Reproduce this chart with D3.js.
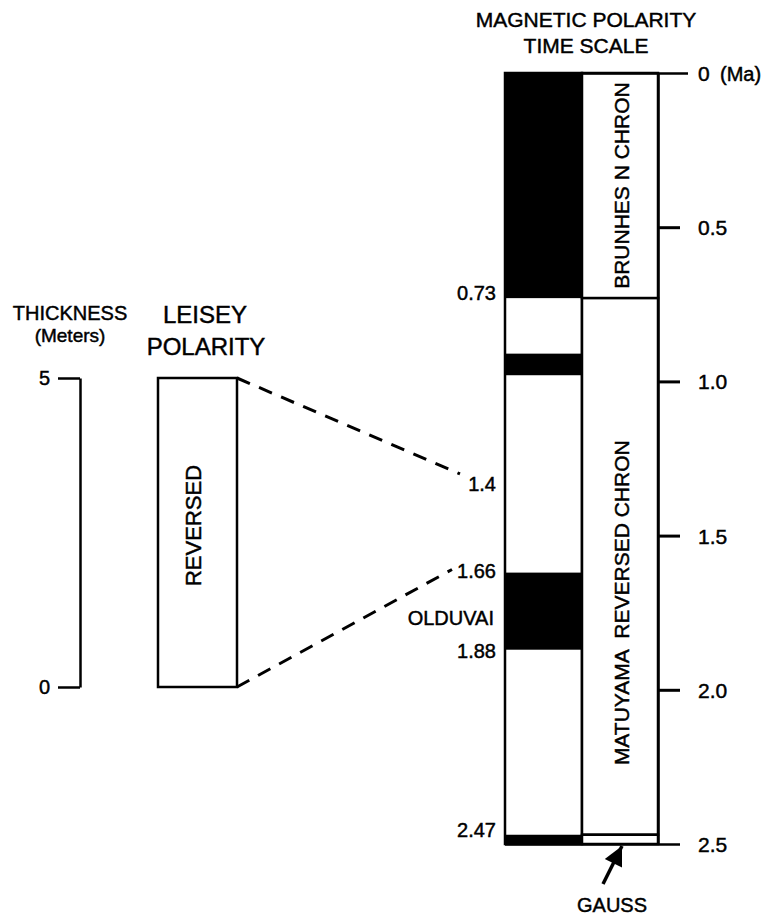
<!DOCTYPE html>
<html>
<head>
<meta charset="utf-8">
<script src="https://cdn.jsdelivr.net/npm/d3@7"></script>
<style>
body { margin: 0; background: #fff; }
svg text { font-family: "Liberation Sans", Arial, Helvetica, sans-serif; fill: #000; stroke: #000; stroke-width: 0.45px; }
</style>
</head>
<body>
<svg id="chart" width="765" height="915"></svg>
<script>
// time scale ticks (Ma)
var timeTicks = [0, 0.5, 1.0, 1.5, 2.0, 2.5];
// normal polarity intervals (black)
var normalBands = [[0, 0.73], [0.91, 0.98], [1.62, 1.87], [2.47, 2.5]];
// chrons
var chrons = [
  { name: "BRUNHES N CHRON", from: 0, to: 0.73, label: true },
  { name: "MATUYAMA  REVERSED CHRON", from: 0.73, to: 2.47, label: true },
  { name: "GAUSS", from: 2.47, to: 2.5, label: false }
];
// boundary ages written beside the column
var ageLabels = [
  { text: "0.73", at: 0.73 },
  { text: "1.4", at: 1.35 },
  { text: "1.66", at: 1.63 },
  { text: "1.88", at: 1.89 },
  { text: "2.47", at: 2.47 }
];
// Leisey section
var thicknessTicks = [0, 5];
var leisey = { from: 0, to: 5, polarity: "REVERSED" };
// tie lines: thickness (m) -> age (Ma)
var ties = [{ m: 5, ma: 1.30 }, { m: 0, ma: 1.61 }];

var svg = d3.select("#chart");
var sw = 2.5;

var y = d3.scaleLinear().domain([0, 2.5]).range([73, 844]);
var ym = d3.scaleLinear().domain([0, 5]).range([687, 378]);

var polX0 = 505, polX1 = 582, chrX1 = 658;

/* titles */
svg.append("text").attr("x", 586).attr("y", 27).attr("text-anchor", "middle")
  .attr("font-size", 21).text("MAGNETIC POLARITY");
svg.append("text").attr("x", 586).attr("y", 53).attr("text-anchor", "middle")
  .attr("font-size", 21).text("TIME SCALE");

svg.append("text").attr("x", 70).attr("y", 320).attr("text-anchor", "middle")
  .attr("font-size", 20).text("THICKNESS");
svg.append("text").attr("x", 70).attr("y", 342).attr("text-anchor", "middle")
  .attr("font-size", 19).text("(Meters)");
svg.append("text").attr("x", 205).attr("y", 323).attr("text-anchor", "middle")
  .attr("font-size", 24).text("LEISEY");
svg.append("text").attr("x", 206).attr("y", 355).attr("text-anchor", "middle")
  .attr("font-size", 24).text("POLARITY");

/* polarity column */
svg.append("g").selectAll("rect").data(normalBands).enter().append("rect")
  .attr("x", polX0).attr("width", polX1 - polX0)
  .attr("y", function(d){ return y(d[0]); })
  .attr("height", function(d){ return y(d[1]) - y(d[0]); })
  .attr("fill", "#000");
svg.append("rect").attr("x", polX0).attr("y", y(0))
  .attr("width", polX1 - polX0).attr("height", y(2.5) - y(0))
  .attr("fill", "none").attr("stroke", "#000").attr("stroke-width", sw);

/* chron column */
svg.append("g").selectAll("rect").data(chrons).enter().append("rect")
  .attr("x", polX1).attr("width", chrX1 - polX1)
  .attr("y", function(d){ return y(d.from); })
  .attr("height", function(d){ return y(d.to) - y(d.from); })
  .attr("fill", "#fff").attr("stroke", "#000").attr("stroke-width", sw);

svg.append("g").selectAll("text").data(chrons.filter(function(d){ return d.label; }))
  .enter().append("text")
  .attr("font-size", 21).attr("text-anchor", "middle")
  .attr("transform", function(d, i){
    var cy = i == 0 ? (y(d.from) + y(d.to)) / 2 : y(d.to) - 66 - 166;
    return "translate(" + 629 + "," + cy + ") rotate(-90)";
  })
  .text(function(d){ return d.name; })
  .style("white-space", "pre");

/* time axis */
var axisT = d3.axisRight(y).tickValues(timeTicks).tickSize(22).tickSizeOuter(0).tickPadding(18)
  .tickFormat(function(d){ return d === 0 ? "0" : d3.format(".1f")(d); });
var gT = svg.append("g").attr("transform", "translate(" + chrX1 + ",0)").call(axisT);
gT.select(".domain").attr("stroke-width", sw);
gT.selectAll(".tick line").attr("stroke-width", 3);
gT.selectAll(".tick text").attr("font-size", 21).attr("font-family", null).attr("dy", "0.36em");
gT.selectAll(".tick").filter(function(d){ return d === 0 || d === 2.5; })
  .select("line").attr("x1", polX0 - chrX1).attr("stroke-width", sw);
gT.selectAll(".tick").filter(function(d){ return d === 0; }).select("line").attr("x2", 30);
svg.append("text").attr("x", 720).attr("y", y(0) + 8).attr("font-size", 20).text("(Ma)");

/* age labels */
svg.append("g").selectAll("text").data(ageLabels).enter().append("text")
  .attr("x", 496).attr("y", function(d){ return y(d.at) + 2; })
  .attr("text-anchor", "end").attr("font-size", 20)
  .text(function(d){ return d.text; });
svg.append("text").attr("x", 494)
  .attr("y", (y(normalBands[2][0]) + y(normalBands[2][1])) / 2 + 14)
  .attr("text-anchor", "end").attr("font-size", 20).text("OLDUVAI");

/* thickness axis */
var axisM = d3.axisLeft(ym).tickValues(thicknessTicks).tickSize(22).tickSizeOuter(0).tickPadding(8)
  .tickFormat(d3.format("d"));
var gM = svg.append("g").attr("transform", "translate(80,0)").call(axisM);
gM.select(".domain").attr("stroke-width", sw);
gM.selectAll(".tick line").attr("stroke-width", sw);
gM.selectAll(".tick text").attr("font-size", 20).attr("font-family", null);

/* Leisey column */
var lx0 = 158, lx1 = 237;
svg.append("rect").attr("x", lx0).attr("y", ym(leisey.to))
  .attr("width", lx1 - lx0).attr("height", ym(leisey.from) - ym(leisey.to))
  .attr("fill", "#fff").attr("stroke", "#000").attr("stroke-width", sw);
svg.append("text").attr("font-size", 22).attr("text-anchor", "middle")
  .attr("transform", "translate(201," + ((ym(leisey.from) + ym(leisey.to)) / 2 - 7) + ") rotate(-90)")
  .text(leisey.polarity);

/* tie lines */
var tieEndX = [460, 452];
svg.append("g").selectAll("line").data(ties).enter().append("line")
  .attr("x1", lx1).attr("y1", function(d){ return ym(d.m); })
  .attr("x2", function(d, i){ return tieEndX[i]; }).attr("y2", function(d){ return y(d.ma); })
  .attr("stroke", "#000").attr("stroke-width", 3).attr("stroke-dasharray", "14,10");

/* Gauss arrow */
svg.append("defs").append("marker").attr("id", "ah")
  .attr("viewBox", "0 0 10 10").attr("refX", 10).attr("refY", 5)
  .attr("markerWidth", 6).attr("markerHeight", 5.5).attr("markerUnits", "strokeWidth")
  .attr("orient", "auto")
  .append("path").attr("d", "M0,0L10,5L0,10Z").attr("fill", "#000");
svg.append("line").attr("x1", 603).attr("y1", 884).attr("x2", 622).attr("y2", y(2.5) + 2)
  .attr("stroke", "#000").attr("stroke-width", 3.5).attr("marker-end", "url(#ah)");
svg.append("text").attr("x", 612).attr("y", 912).attr("text-anchor", "middle")
  .attr("font-size", 20).text("GAUSS");
</script>
</body>
</html>
